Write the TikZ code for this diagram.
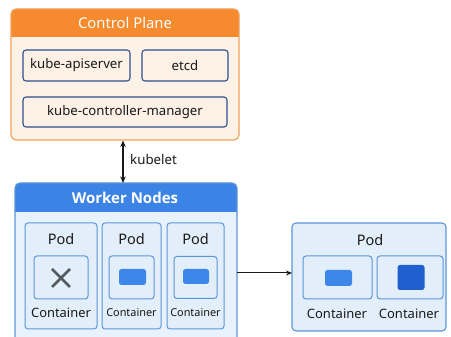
\documentclass[tikz,border=0pt]{standalone}
\usepackage{fontspec}
\setmainfont{Noto Sans}
\newfontfamily\titlefont{Open Sans}
\usetikzlibrary{arrows.meta}
\definecolor{cporange}{HTML}{F58A2E}
\definecolor{cpborder}{HTML}{F2A25A}
\definecolor{cpbody}{HTML}{FDF2E6}
\definecolor{innerbd}{HTML}{2F4F8F}
\definecolor{innerfill}{HTML}{FCF1E4}
\definecolor{wnblue}{HTML}{3C83E6}
\definecolor{wnbody}{HTML}{E8F2FC}
\definecolor{podbd}{HTML}{5B95D9}
\definecolor{podfill}{HTML}{E2EEFA}
\definecolor{iconblue}{HTML}{3D87E8}
\definecolor{icondark}{HTML}{1F5FCE}
\definecolor{xgray}{HTML}{555A60}
\tikzset{
  box/.style={rectangle, rounded corners=3pt, inner sep=0pt, outer sep=0pt},
  cpbox/.style={box, draw=innerbd, line width=1.1pt, fill=innerfill, font=\fontsize{13.2}{15}\selectfont, text=black!90},
  podbox/.style={box, draw=podbd, line width=1pt, fill=podfill},
  ctbox/.style={box, draw=podbd, line width=1pt, fill=podfill},
  icon/.style={rectangle, rounded corners=2.5pt, inner sep=0pt, fill=iconblue},
  lbl/.style={inner sep=0pt, text=black!90},
  ktip/.tip={Stealth[length=6.5pt,width=5.5pt]},
  conn/.style={line width=1pt, black!90, -{Stealth[length=6pt,width=5pt]}}
}
\begin{document}
\begin{tikzpicture}[x=1pt,y=-1pt]
\useasboundingbox (0,0) rectangle (451,337);
\clip (0,0) rectangle (451,337);
% Control plane
\node[box, fill=cpbody, minimum width=228pt, minimum height=131pt, rounded corners=5pt] (cp) at (125,74.5) {};
\fill[cporange, rounded corners=5pt] (11,9) rectangle (239,37);
\fill[cporange] (11,30) rectangle (239,37);
\draw[cpborder, line width=1.2pt, rounded corners=5pt] (11,9) rectangle (239,140);
\node[lbl, text=white, font=\fontsize{14.8}{16}\selectfont] (cptitle) at (125,23) {Control Plane};
\node[cpbox, minimum width=107pt, minimum height=31pt] (api) at (76.5,65.5) {kube-apiserver};
\node[cpbox, minimum width=86pt, minimum height=31pt] (etcd) at (185,65.5) {etcd};
\node[cpbox, minimum width=204pt, minimum height=30pt] (kcm) at (125,112) {kube-controller-manager};
% Worker nodes
\node[box, fill=wnbody, minimum width=222pt, minimum height=170pt, rounded corners=5pt] (wn) at (126,268) {};
\fill[wnblue, rounded corners=5pt] (15,183) rectangle (237,212);
\fill[wnblue] (15,205) rectangle (237,212);
\draw[podbd, line width=1.2pt, rounded corners=5pt] (15,183) rectangle (237,353);
\node[lbl, text=white, font=\titlefont\bfseries\fontsize{15}{17}\selectfont] (wntitle) at (125,197.5) {Worker Nodes};
% pods
\node[podbox, minimum width=72pt, minimum height=106pt] (p1) at (61,276) {};
\node[podbox, minimum width=59pt, minimum height=106pt] (p2) at (131.5,276) {};
\node[podbox, minimum width=57pt, minimum height=106pt] (p3) at (195.5,276) {};
\node[lbl, font=\fontsize{14.5}{16}\selectfont] (p1l) at (61,239) {Pod};
\node[lbl, font=\fontsize{14.5}{16}\selectfont] (p2l) at (131.5,239) {Pod};
\node[lbl, font=\fontsize{14.5}{16}\selectfont] (p3l) at (195.5,239) {Pod};
\node[ctbox, minimum width=54pt, minimum height=43pt] (c1) at (61,277.5) {};
\node[ctbox, minimum width=45pt, minimum height=43pt] (c2) at (131.5,277.5) {};
\node[ctbox, minimum width=43pt, minimum height=42pt] (c3) at (195.5,277.5) {};
\draw[xgray, line width=2.8pt] (52,269) -- (70,287) (52,287) -- (70,269);
\node[icon, minimum width=27pt, minimum height=16pt] (i2) at (132.5,277) {};
\node[icon, minimum width=26pt, minimum height=15pt] (i3) at (196,276.5) {};
\node[lbl, font=\fontsize{12.9}{14}\selectfont] (c1l) at (61,313) {Container};
\node[lbl, font=\fontsize{10.9}{12}\selectfont] (c2l) at (131.5,313) {Container};
\node[lbl, font=\fontsize{10.9}{12}\selectfont] (c3l) at (195.5,313) {Container};
% right pod
\node[podbox, minimum width=154pt, minimum height=108pt, line width=1.1pt, rounded corners=4pt] (rp) at (369,277) {};
\node[lbl, font=\fontsize{14.5}{16}\selectfont] (rpl) at (370,240) {Pod};
\node[ctbox, minimum width=69pt, minimum height=43pt] (rc1) at (337.5,277.5) {};
\node[ctbox, minimum width=66pt, minimum height=43pt] (rc2) at (410,277.5) {};
\node[icon, minimum width=27pt, minimum height=16pt] (ri1) at (338.5,278) {};
\node[icon, fill=icondark, minimum width=27pt, minimum height=25pt] (ri2) at (411,277.5) {};
\node[lbl, font=\fontsize{13}{14}\selectfont] (rc1l) at (337,314) {Container};
\node[lbl, font=\fontsize{13}{14}\selectfont] (rc2l) at (409,314) {Container};
% connectors
\coordinate (wnr) at (237,273);
\draw[conn] (wnr) -- (wnr -| rp.west);
\coordinate (kt) at (123,140.5);
\coordinate (kb) at (123,183);
\draw[line width=1.1pt, black!90, {ktip}-{ktip}] (kt) -- (kb);
\node[lbl, anchor=west, font=\fontsize{13.3}{15}\selectfont] (kub) at (130,160) {kubelet};
\end{tikzpicture}
\end{document}
